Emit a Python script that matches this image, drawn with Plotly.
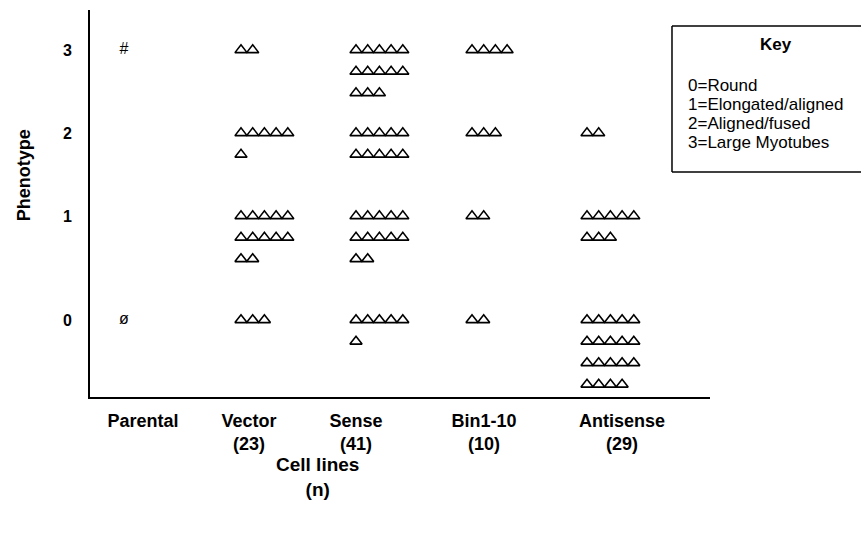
import plotly.graph_objects as go

# ---- data ----
cell_lines = ["Parental", "Vector", "Sense", "Bin1-10", "Antisense"]
cell_n = [None, 23, 41, 10, 29]
phenotypes = [3, 2, 1, 0]
vector_counts = [2, 6, 12, 3]
sense_counts = [13, 10, 12, 6]
bin_counts = [4, 3, 2, 2]
antisense_counts = [0, 2, 8, 19]
parental_marks = ["#", "", "", "ø"]
key_lines = ["0=Round", "1=Elongated/aligned", "2=Aligned/fused", "3=Large Myotubes"]

# ---- layout constants ----
FONT = "Liberation Sans, Arial, Helvetica, sans-serif"
label_pos = [0.53, 1.59, 2.66, 3.94, 5.32]      # x of category labels
group_start = [0.34, 1.51, 2.66, 3.82, 4.97]    # x of first symbol in each group
level_pos = {3: 3.0, 2: 2.0, 1: 1.0, 0: -0.253}  # y position of phenotype rows
STEP_X = 0.117
STEP_Y = 0.259
PER_ROW = 5

fig = go.Figure()

groups = [vector_counts, sense_counts, bin_counts, antisense_counts]
for gi, counts in enumerate(groups, start=1):
    xs, ys = [], []
    for ph, c in zip(phenotypes, counts):
        for k in range(c):
            xs.append(group_start[gi] + (k % PER_ROW) * STEP_X)
            ys.append(level_pos[ph] - (k // PER_ROW) * STEP_Y)
    fig.add_trace(go.Scatter(
        x=xs, y=ys, mode="markers", name=cell_lines[gi],
        marker=dict(symbol="triangle-up-open", size=10.5, color="black",
                    line=dict(width=1.6, color="black")),
        showlegend=False, hoverinfo="skip"))

# Parental symbols
px, py, pt = [], [], []
for ph, m in zip(phenotypes, parental_marks):
    if m:
        px.append(group_start[0])
        py.append(level_pos[ph])
        pt.append(m)
fig.add_trace(go.Scatter(x=px, y=py, text=pt, mode="text",
                         textfont=dict(family=FONT, size=16, color="black"),
                         showlegend=False, hoverinfo="skip"))

tick_text = [name if n is None else f"{name}<br>({n})" for name, n in zip(cell_lines, cell_n)]

fig.update_layout(
    width=861, height=535,
    margin=dict(l=90, r=151, t=10, b=138),
    paper_bgcolor="white", plot_bgcolor="white",
    font=dict(family=FONT, color="black"),
    xaxis=dict(range=[0, 6.2], tickvals=label_pos, ticktext=tick_text,
               tickfont=dict(family=FONT, size=18, color="black", weight="bold"),
               showgrid=False, zeroline=False, showline=True, linecolor="black",
               linewidth=2, ticks="", ticklabelstandoff=6, fixedrange=True),
    yaxis=dict(range=[-1.181, 3.482], tickvals=[level_pos[p] for p in phenotypes],
               ticktext=[str(p) for p in phenotypes],
               tickfont=dict(family=FONT, size=16, color="black", weight="bold"),
               showgrid=False, zeroline=False, showline=True, linecolor="black",
               linewidth=2, ticks="", ticklabelstandoff=13, fixedrange=True),
)

# Axis titles
fig.add_annotation(text="<b>Phenotype</b>", xref="paper", yref="paper",
                   x=-0.106, y=0.574, xanchor="center", yanchor="middle",
                   textangle=-90, showarrow=False,
                   font=dict(family=FONT, size=18, color="black"))
fig.add_annotation(text="<b>Cell lines<br>(n)</b>", xref="paper", yref="paper",
                   x=0.3677, y=-0.2067, xanchor="center", yanchor="middle",
                   showarrow=False,
                   font=dict(family=FONT, size=19, color="black"))

# Key box (open on the right: it runs off the page in the reference)
bx0, bx1, by0, by1 = 0.9387, 1.4, 0.5814, 0.9587
for (xa, ya, xb, yb) in [(bx0, by0, bx0, by1), (bx0, by1, bx1, by1), (bx0, by0, bx1, by0)]:
    fig.add_shape(type="line", xref="paper", yref="paper",
                  x0=xa, y0=ya, x1=xb, y1=yb,
                  line=dict(color="black", width=1.5))
fig.add_annotation(text="<b>Key</b>", xref="paper", yref="paper",
                   x=1.1065, y=0.9096, xanchor="center", yanchor="middle",
                   showarrow=False,
                   font=dict(family=FONT, size=17, color="black"))
key_y = [0.8062, 0.7571, 0.7080, 0.6589]
for t, yy in zip(key_lines, key_y):
    fig.add_annotation(text=t, xref="paper", yref="paper", x=0.9613, y=yy,
                       xanchor="left", yanchor="middle", showarrow=False,
                       font=dict(family=FONT, size=17, color="black"))

fig.write_html("out.html", post_script="document.body.style.margin='0';",
               config={"displayModeBar": False})
